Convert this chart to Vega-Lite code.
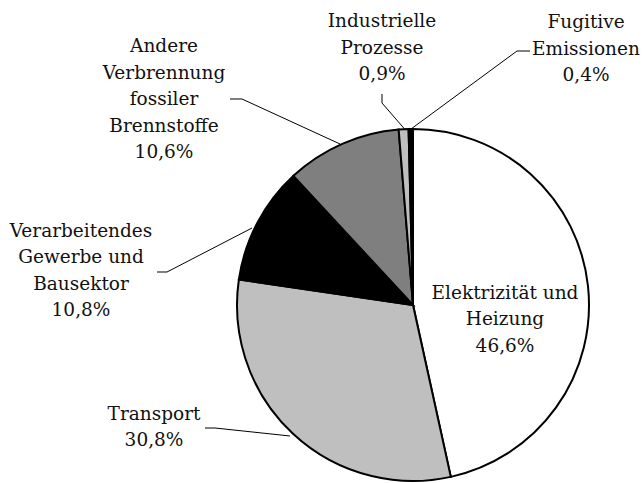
{
  "$schema": "https://vega.github.io/schema/vega-lite/v6.json",
  "width": 644,
  "height": 483,
  "autosize": "none",
  "padding": 0,
  "background": "white",
  "config": {"view": {"stroke": null}},
  "datasets": {
    "shares": [
      {"idx": 1, "sector": "Elektrizität und Heizung", "share": 46.6},
      {"idx": 2, "sector": "Transport", "share": 30.8},
      {"idx": 3, "sector": "Verarbeitendes Gewerbe und Bausektor", "share": 10.8},
      {"idx": 4, "sector": "Andere Verbrennung fossiler Brennstoffe", "share": 10.6},
      {"idx": 5, "sector": "Industrielle Prozesse", "share": 0.9},
      {"idx": 6, "sector": "Fugitive Emissionen", "share": 0.4}
    ],
    "labels": [
      {"sector": "Elektrizität und Heizung", "lines": ["Elektrizität und", "Heizung", "46,6%"], "u": 0.5227, "v": 0.0341},
      {"sector": "Transport", "lines": ["Transport", "30,8%"], "u": -1.4716, "v": -0.6534},
      {"sector": "Verarbeitendes Gewerbe und Bausektor", "lines": ["Verarbeitendes", "Gewerbe und", "Bausektor", "10,8%"], "u": -1.8864, "v": 0.3864},
      {"sector": "Andere Verbrennung fossiler Brennstoffe", "lines": ["Andere", "Verbrennung", "fossiler", "Brennstoffe", "10,6%"], "u": -1.4148, "v": 1.4375},
      {"sector": "Industrielle Prozesse", "lines": ["Industrielle", "Prozesse", "0,9%"], "u": -0.1761, "v": 1.5795},
      {"sector": "Fugitive Emissionen", "lines": ["Fugitive", "Emissionen", "0,4%"], "u": 0.983, "v": 1.5739}
    ],
    "leaders": [
      {"sector": "Industrielle Prozesse", "step": 1, "u": -0.1761, "v": 1.1989},
      {"sector": "Industrielle Prozesse", "step": 2, "u": -0.1761, "v": 1.1477},
      {"sector": "Industrielle Prozesse", "step": 3, "u": -0.047, "v": 0.999},
      {"sector": "Fugitive Emissionen", "step": 1, "u": 0.6648, "v": 1.4432},
      {"sector": "Fugitive Emissionen", "step": 2, "u": 0.5909, "v": 1.4432},
      {"sector": "Fugitive Emissionen", "step": 3, "u": -0.0125, "v": 0.999},
      {"sector": "Andere Verbrennung fossiler Brennstoffe", "step": 1, "u": -1.0398, "v": 1.1705},
      {"sector": "Andere Verbrennung fossiler Brennstoffe", "step": 2, "u": -0.9716, "v": 1.1705},
      {"sector": "Andere Verbrennung fossiler Brennstoffe", "step": 3, "u": -0.4148, "v": 0.9148},
      {"sector": "Verarbeitendes Gewerbe und Bausektor", "step": 1, "u": -1.4545, "v": 0.1875},
      {"sector": "Verarbeitendes Gewerbe und Bausektor", "step": 2, "u": -1.3977, "v": 0.1875},
      {"sector": "Verarbeitendes Gewerbe und Bausektor", "step": 3, "u": -0.9148, "v": 0.4375},
      {"sector": "Transport", "step": 1, "u": -1.1818, "v": -0.6989},
      {"sector": "Transport", "step": 2, "u": -1.125, "v": -0.6989},
      {"sector": "Transport", "step": 3, "u": -0.6989, "v": -0.7443}
    ]
  },
  "layer": [
    {
      "data": {"name": "leaders"},
      "mark": {"type": "line", "stroke": "black", "strokeWidth": 1},
      "encoding": {
        "x": {"field": "u", "type": "quantitative", "scale": {"domain": [-2.3466, 1.3125], "nice": false, "zero": false}, "axis": null},
        "y": {"field": "v", "type": "quantitative", "scale": {"domain": [-1.0114, 1.733], "nice": false, "zero": false}, "axis": null},
        "detail": {"field": "sector"},
        "order": {"field": "step", "type": "quantitative"}
      }
    },
    {
      "data": {"name": "shares"},
      "mark": {"type": "arc", "outerRadius": 176, "stroke": "black", "strokeWidth": 2},
      "encoding": {
        "theta": {"field": "share", "type": "quantitative", "stack": true},
        "order": {"field": "idx", "type": "quantitative"},
        "color": {
          "field": "sector",
          "type": "nominal",
          "scale": {
            "domain": ["Elektrizität und Heizung", "Transport", "Verarbeitendes Gewerbe und Bausektor", "Andere Verbrennung fossiler Brennstoffe", "Industrielle Prozesse", "Fugitive Emissionen"],
            "range": ["#ffffff", "#bfbfbf", "#000000", "#7f7f7f", "#bfbfbf", "#000000"]
          },
          "legend": null
        },
        "x": {"datum": 0, "type": "quantitative"},
        "y": {"datum": 0, "type": "quantitative"}
      }
    },
    {
      "data": {"name": "labels"},
      "mark": {"type": "text", "align": "center", "baseline": "alphabetic", "font": "DejaVu Serif", "fontSize": 18.5, "lineHeight": 26.5, "color": "#111111"},
      "encoding": {
        "x": {"field": "u", "type": "quantitative"},
        "y": {"field": "v", "type": "quantitative"},
        "text": {"field": "lines"}
      }
    }
  ]
}
